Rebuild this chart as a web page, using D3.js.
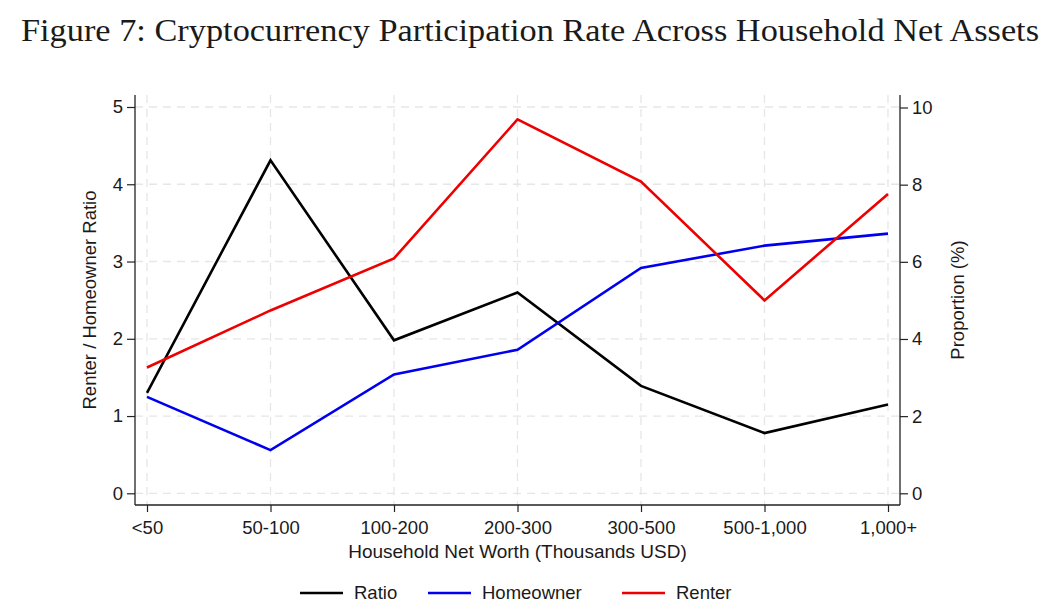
<!DOCTYPE html>
<html>
<head>
<meta charset="utf-8">
<script src="https://cdn.jsdelivr.net/npm/d3@7"></script>
<style>
  body { margin: 0; background: #fff; }
  text { font-family: "Liberation Sans", Arial, sans-serif; fill: #1a1a1a; }
</style>
</head>
<body>
<svg width="1056" height="615"></svg>
<script>
// Data
const categories = ["<50", "50-100", "100-200", "200-300", "300-500", "500-1,000", "1,000+"];
const ratio = [1.30, 4.31, 1.98, 2.60, 1.39, 0.78, 1.15];        // left axis
const homeowner = [2.50, 1.12, 3.08, 3.72, 5.84, 6.42, 6.73];     // right axis, %
const renter = [3.26, 4.74, 6.09, 9.69, 8.08, 5.00, 7.76];        // right axis, %
const leftTicks = [0, 1, 2, 3, 4, 5];
const rightTicks = [0, 2, 4, 6, 8, 10];

const svg = d3.select("svg");

const plotLeft = 135, plotRight = 900, plotTop = 95, plotBottom = 505;
const fontSize = "18.5px";

const x = d3.scalePoint()
  .domain(categories)
  .range([147, 888]);

const yL = d3.scaleLinear().domain([0, 5]).range([493.3, 107]);
const yR = d3.scaleLinear().domain([0, 10]).range([493.3, 107.5]);

// Title
svg.append("text")
  .attr("x", 530)
  .attr("y", 41)
  .attr("text-anchor", "middle")
  .attr("textLength", 1018)
  .attr("lengthAdjust", "spacingAndGlyphs")
  .style("font-family", "'Liberation Serif', 'DejaVu Serif', serif")
  .style("font-size", "32px")
  .text("Figure 7: Cryptocurrency Participation Rate Across Household Net Assets");

// Grid lines
const grid = svg.append("g")
  .attr("stroke", "#e6e6e6")
  .attr("stroke-width", 1.3)
  .attr("stroke-dasharray", "8,6");

grid.selectAll(".hg")
  .data(leftTicks)
  .join("line")
  .attr("x1", plotLeft).attr("x2", plotRight)
  .attr("y1", d => yL(d)).attr("y2", d => yL(d));

grid.selectAll(".vg")
  .data(categories)
  .join("line")
  .attr("x1", d => x(d)).attr("x2", d => x(d))
  .attr("y1", plotTop).attr("y2", plotBottom);

// Axes
const axisColor = "#222";

const leftAxis = svg.append("g")
  .attr("transform", `translate(${plotLeft},0)`)
  .call(d3.axisLeft(yL).tickValues(leftTicks).tickFormat(d3.format("d")).tickSize(8).tickPadding(4));

const rightAxis = svg.append("g")
  .attr("transform", `translate(${plotRight},0)`)
  .call(d3.axisRight(yR).tickValues(rightTicks).tickFormat(d3.format("d")).tickSize(8).tickPadding(4));

const bottomAxis = svg.append("g")
  .attr("transform", `translate(0,${plotBottom})`)
  .call(d3.axisBottom(x).tickSize(7).tickPadding(9));

[leftAxis, rightAxis, bottomAxis].forEach(g => {
  g.select(".domain").remove();
  g.selectAll(".tick line").attr("stroke", axisColor).attr("stroke-width", 1.2);
  g.selectAll(".tick text")
    .style("font-size", fontSize)
    .style("font-family", "'Liberation Sans', Arial, sans-serif")
    .attr("fill", "#1a1a1a");
});

// Axis lines
svg.append("line").attr("x1", plotLeft).attr("x2", plotLeft).attr("y1", plotTop).attr("y2", plotBottom)
  .attr("stroke", axisColor).attr("stroke-width", 1.3);
svg.append("line").attr("x1", plotRight).attr("x2", plotRight).attr("y1", plotTop).attr("y2", plotBottom)
  .attr("stroke", axisColor).attr("stroke-width", 1.3);
svg.append("line").attr("x1", plotLeft).attr("x2", plotRight).attr("y1", plotBottom).attr("y2", plotBottom)
  .attr("stroke", axisColor).attr("stroke-width", 1.3);

// Axis titles
svg.append("text")
  .attr("transform", `translate(96,${(plotTop + plotBottom) / 2}) rotate(-90)`)
  .attr("text-anchor", "middle")
  .style("font-size", fontSize)
  .text("Renter / Homeowner Ratio");

svg.append("text")
  .attr("transform", `translate(964,${(plotTop + plotBottom) / 2}) rotate(-90)`)
  .attr("text-anchor", "middle")
  .style("font-size", fontSize)
  .text("Proportion (%)");

svg.append("text")
  .attr("x", (x(categories[0]) + x(categories[6])) / 2)
  .attr("y", 558)
  .attr("text-anchor", "middle")
  .style("font-size", "19px")
  .text("Household Net Worth (Thousands USD)");

// Lines
const series = [
  { name: "Ratio", values: ratio, scale: yL, color: "#000000" },
  { name: "Homeowner", values: homeowner, scale: yR, color: "#0000ee" },
  { name: "Renter", values: renter, scale: yR, color: "#ee0000" }
];

series.forEach(s => {
  const line = d3.line()
    .x((d, i) => x(categories[i]))
    .y(d => s.scale(d));
  svg.append("path")
    .datum(s.values)
    .attr("fill", "none")
    .attr("stroke", s.color)
    .attr("stroke-width", 2.6)
    .attr("stroke-linejoin", "miter")
    .attr("d", line);
});

// Legend
const legendX = [300, 428, 622];
const legend = svg.append("g")
  .selectAll("g")
  .data(series)
  .join("g")
  .attr("transform", (d, i) => `translate(${legendX[i]},593)`);

legend.append("line")
  .attr("x1", 0).attr("x2", 43)
  .attr("stroke", d => d.color)
  .attr("stroke-width", 2.6);

legend.append("text")
  .attr("x", 54)
  .attr("dy", "0.35em")
  .style("font-size", fontSize)
  .text(d => d.name);
</script>
</body>
</html>
